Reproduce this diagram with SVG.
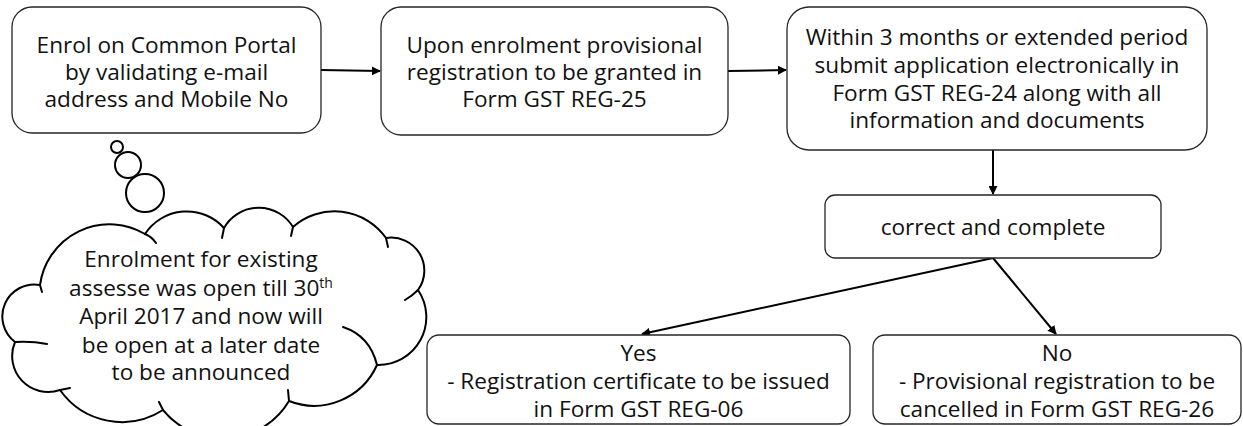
<svg xmlns="http://www.w3.org/2000/svg" width="1243" height="426" viewBox="0 0 1243 426">
<defs>
<style>
.box{fill:#fff;stroke:#262626;stroke-width:1.3}
.t{font-family:"Open Sans","Noto Sans","Liberation Sans",sans-serif;font-size:22.6px;fill:#111;text-anchor:middle}
.c{fill:none;stroke:#000;stroke-width:2;stroke-linecap:round}
.cl{fill:#fff;stroke:#000;stroke-width:2;stroke-linejoin:round}
.ln{fill:none;stroke:#000;stroke-width:2}
</style>
<marker id="ah" viewBox="0 0 10 10" refX="9" refY="5" markerWidth="4.5" markerHeight="4.5" orient="auto" markerUnits="strokeWidth">
<path d="M0,0 L10,5 L0,10 z" fill="#000"/>
</marker>
</defs>

<g id="connectors">
<line class="ln" x1="321" y1="70" x2="380" y2="71" marker-end="url(#ah)"/>
<line class="ln" x1="728" y1="71" x2="786" y2="70" marker-end="url(#ah)"/>
<line class="ln" x1="993" y1="150" x2="993" y2="194" marker-end="url(#ah)"/>
<line class="ln" x1="993" y1="258" x2="642" y2="334" marker-end="url(#ah)"/>
<line class="ln" x1="993" y1="258" x2="1056" y2="334" marker-end="url(#ah)"/>
</g>

<g id="n1">
<rect class="box" x="12" y="7" width="309" height="126" rx="20"/>
<text class="t" x="166.5" y="53">Enrol on Common Portal</text>
<text class="t" x="166.5" y="80">by validating e-mail</text>
<text class="t" x="166.5" y="107">address and Mobile No</text>
</g>

<g id="n2">
<rect class="box" x="381" y="7" width="347" height="128" rx="20"/>
<text class="t" x="554.5" y="53">Upon enrolment provisional</text>
<text class="t" x="554.5" y="80">registration to be granted in</text>
<text class="t" x="554.5" y="107">Form GST REG-25</text>
</g>

<g id="n3">
<rect class="box" x="787" y="7" width="420" height="143" rx="22"/>
<text class="t" x="997" y="45">Within 3 months or extended period</text>
<text class="t" x="997" y="73">submit application electronically in</text>
<text class="t" x="997" y="101">Form GST REG-24 along with all</text>
<text class="t" x="997" y="128">information and documents</text>
</g>

<g id="n4">
<rect class="box" x="825" y="195" width="336" height="63" rx="10"/>
<text class="t" x="993" y="235">correct and complete</text>
</g>

<g id="n5">
<rect class="box" x="427" y="335" width="423" height="89" rx="12"/>
<text class="t" x="638.5" y="361">Yes</text>
<text class="t" x="638.5" y="389">- Registration certificate to be issued</text>
<text class="t" x="638.5" y="417">in Form GST REG-06</text>
</g>

<g id="n6">
<rect class="box" x="873" y="335" width="368" height="89" rx="12"/>
<text class="t" x="1057" y="361">No</text>
<text class="t" x="1057" y="389">- Provisional registration to be</text>
<text class="t" x="1057" y="417">cancelled in Form GST REG-26</text>
</g>

<g id="cloud">
<circle class="c" cx="117" cy="147" r="6"/>
<circle class="c" cx="128" cy="165" r="13"/>
<circle class="c" cx="145" cy="193" r="19"/>
<path class="cl" d="M40,285 A70,70 0 0 1 145,234 A50,50 0 0 1 224,228 A40,40 0 0 1 293,227 A63,63 0 0 1 386,238 A33,33 0 0 1 418,290 A48,48 0 0 1 377,365 A69,69 0 0 1 289,401 A77,77 0 0 1 163,410 A76,76 0 0 1 60,390 A36,36 0 0 1 15,342 A32,32 0 0 1 40,285 Z"/>
<path class="c" d="M40,285 L42,292 M145,234 Q152,237 156,243 M224,228 L222,238 M293,227 L291,236 M386,238 L388,247 M418,290 Q412,296 405,300 M377,365 Q370,336 343,327 M289,401 L288,390 M163,410 L159,402 M60,390 L70,388 M15,342 Q32,341 47,344"/>
<text class="t" x="201" y="267">Enrolment for existing</text>
<text class="t" x="201" y="296">assesse was open till 30<tspan font-size="14" dy="-8">th</tspan></text>
<text class="t" x="201" y="324">April 2017 and now will</text>
<text class="t" x="201" y="353">be open at a later date</text>
<text class="t" x="201" y="380">to be announced</text>
</g>
</svg>
